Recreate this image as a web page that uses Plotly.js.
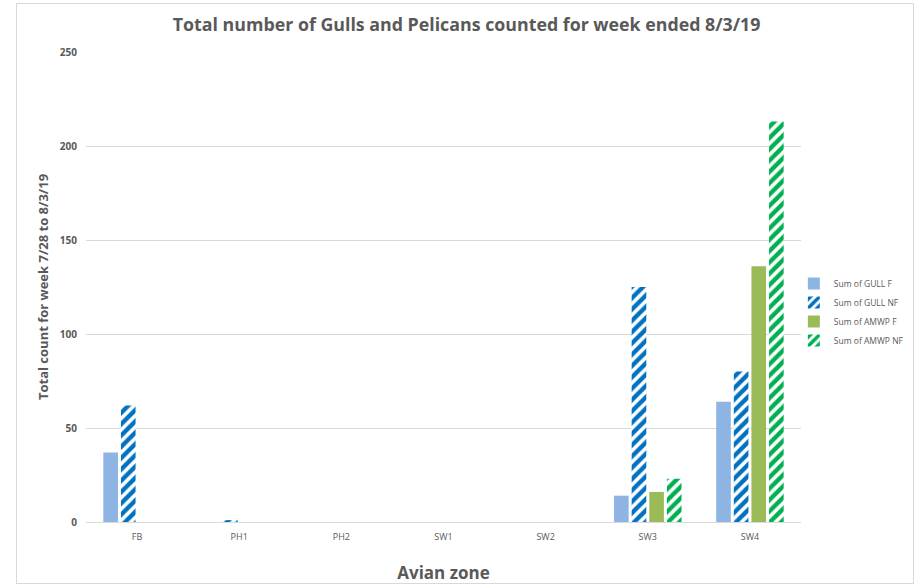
<!DOCTYPE html>
<html><head><meta charset="utf-8">
<script src="https://cdn.plot.ly/plotly-3.0.1.min.js"></script>
<style>
html,body{margin:0;padding:0;background:#fff;}
#frame{position:absolute;left:16px;top:3px;width:898px;height:581px;border:1px solid #d9d9d9;box-sizing:border-box;pointer-events:none;z-index:5;}
#chart{width:924px;height:587px;}
</style></head>
<body>
<div id="frame"></div>
<div id="chart"></div>
<script>
const zones = ['FB','PH1','PH2','SW1','SW2','SW3','SW4'];
const gullF   = [37, 0, 0, 0, 0, 14, 64];
const gullNF  = [62, 1, 0, 0, 0, 125, 80];
const amwpF   = [0, 0, 0, 0, 0, 16, 136];
const amwpNF  = [0, 0, 0, 0, 0, 23, 213];
const seriesNames = ['Sum of GULL F','Sum of GULL NF','Sum of AMWP F','Sum of AMWP NF'];

function solid(name, y, color){
  return {type:'bar', name:name, x:zones, y:y, marker:{color:color, line:{width:0}}, hoverinfo:'x+y+name'};
}
function striped(name, y, color){
  return {type:'bar', name:name, x:zones, y:y,
    marker:{color:'#ffffff', line:{width:0},
      pattern:{shape:'/', fgcolor:color, bgcolor:'#ffffff', fgopacity:1, size:8, solidity:0.55, fillmode:'overlay'}},
    hoverinfo:'x+y+name'};
}
const data = [
  solid(seriesNames[0], gullF, '#8EB4E3'),
  striped(seriesNames[1], gullNF, '#0070C0'),
  solid(seriesNames[2], amwpF, '#9BBB59'),
  striped(seriesNames[3], amwpNF, '#00B050')
];
const grey = '#595959';
const layout = {
  width:924, height:587,
  margin:{l:86, r:123, t:52, b:65, autoexpand:false},
  paper_bgcolor:'#ffffff', plot_bgcolor:'#ffffff',
  font:{family:'Open Sans, Liberation Sans, sans-serif', color:grey},
  title:{text:'<b>Total number of Gulls and Pelicans counted for week ended 8/3/19</b>',
    font:{size:17.8, color:grey, family:'Open Sans, sans-serif'}, x:0.505, xanchor:'center', y:0.958, yanchor:'middle'},
  barmode:'group', bargap:0.31, bargroupgap:0.17,
  xaxis:{type:'category', showgrid:false, showline:true, linecolor:'#d9d9d9', linewidth:1,
    ticks:'', tickfont:{size:9, color:grey}, ticklabelstandoff:6,
    title:{text:'<b>Avian zone</b>', font:{size:17, color:grey}, standoff:25}},
  yaxis:{range:[0,250], dtick:50, showgrid:true, gridcolor:'#d9d9d9', gridwidth:1, zeroline:false,
    showline:false, ticks:'', tickfont:{size:10, color:grey}, ticklabelstandoff:8,
    tickprefix:'<b>', ticksuffix:'</b>',
    title:{text:'<b>Total count for week 7/28 to 8/3/19</b>', font:{size:13, color:grey}, standoff:8}},
  legend:{x:0.99, xanchor:'left', y:0.447, yanchor:'middle', font:{size:8.5, color:grey},
    itemwidth:30, tracegroupgap:0, bgcolor:'rgba(0,0,0,0)'},
  showlegend:true
};
Plotly.newPlot('chart', data, layout, {displayModeBar:false, staticPlot:true});
</script>
</body></html>
